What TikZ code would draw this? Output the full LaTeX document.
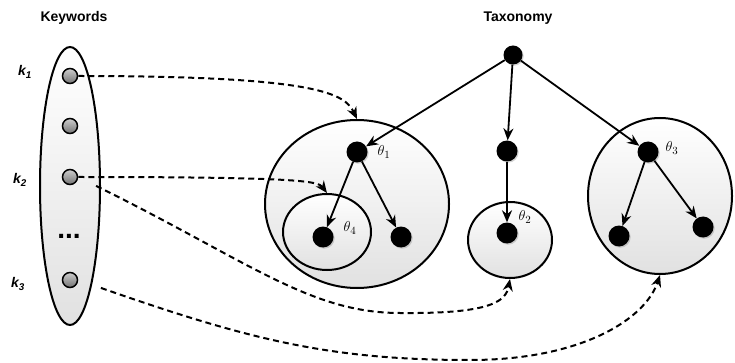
\documentclass[tikz,border=0pt]{standalone}
\usepackage{fontspec}
\setsansfont{Liberation Sans}
\usepackage{tikz}
\usetikzlibrary{shapes.geometric, arrows.meta, positioning, shadows}
\definecolor{BubbleGray}{RGB}{225, 225, 225}
\definecolor{KeyLight}{RGB}{205, 205, 205}
\definecolor{KeyDark}{RGB}{115, 115, 115}
\begin{document}
\begin{tikzpicture}[
    x=1pt,
    y=-1pt,
    bubble/.style={
        ellipse,
        draw=black,
        line width=2pt,
        top color=white,
        bottom color=BubbleGray,
        inner sep=0pt
    },
    keyball/.style={
        circle,
        draw=black,
        line width=1.5pt,
        top color=KeyLight,
        bottom color=KeyDark,
        minimum size=15pt,
        inner sep=0pt
    },
    termnode/.style={
        circle,
        fill=black,
        minimum size=21pt,
        inner sep=0pt,
        drop shadow={shadow xshift=1.2pt, shadow yshift=-1.2pt, opacity=0.35}
    },
    treearrow/.style={
        draw=black,
        line width=1.8pt,
        -{Stealth[length=12pt, width=10pt]}
    },
    linkarrow/.style={
        draw=black,
        line width=2pt,
        dash pattern=on 6pt off 4pt,
        -{Stealth[length=12pt, width=10pt]}
    },
    titlelabel/.style={
        font=\sffamily\bfseries\fontsize{14}{16}\selectfont
    },
    keylabel/.style={
        font=\sffamily\bfseries\itshape\fontsize{14}{16}\selectfont
    },
    thetalabel/.style={
        font=\fontsize{15}{17}\selectfont
    }
]
\useasboundingbox (0,0) rectangle (735,363);
% -------------------------------------------------------------
% TITLES
% -------------------------------------------------------------
\node[titlelabel] (keywordsTitle) at (74,18) {Keywords};
\node[titlelabel] (taxonomyTitle) at (518,18) {Taxonomy};
% -------------------------------------------------------------
% KEYWORD SET
% -------------------------------------------------------------
\node[bubble, minimum width=60pt, minimum height=278pt] (keySetNode) at (70,186) {};
\node[keyball] (keyOneNode) at (70,76) {};
\node[keyball] (keyExtraNode) at (70,126) {};
\node[keyball] (keyTwoNode) at (70,177) {};
\node[keyball] (keyThreeNode) at (70,280) {};
\node[font=\sffamily\bfseries\fontsize{28}{28}\selectfont] (keyDotsNode) at (69,236) {...};
\node[keylabel] (keyOneLabel) at (25,72) {k\textsubscript{1}};
\node[keylabel] (keyTwoLabel) at (20,180) {k\textsubscript{2}};
\node[keylabel] (keyThreeLabel) at (18,284) {k\textsubscript{3}};
% -------------------------------------------------------------
% TAXONOMY GROUPS
% -------------------------------------------------------------
\node[bubble, minimum width=184pt, minimum height=168pt] (groupOneNode) at (357,204) {};
\node[bubble, minimum width=88pt, minimum height=76pt] (groupFourNode) at (327,232) {};
\node[bubble, minimum width=84pt, minimum height=76pt] (groupTwoNode) at (510,240) {};
\node[bubble, minimum width=144pt, minimum height=156pt] (groupThreeNode) at (660,196) {};
% -------------------------------------------------------------
% TAXONOMY TERMS
% -------------------------------------------------------------
\node[termnode, minimum size=19pt] (rootNode) at (513,55) {};
\node[termnode] (thetaOneNode) at (357,152) {};
\node[termnode] (midNode) at (507,151) {};
\node[termnode] (thetaThreeNode) at (648,152) {};
\node[termnode] (thetaFourNode) at (323,237) {};
\node[termnode] (leafANode) at (401,237) {};
\node[termnode] (thetaTwoNode) at (507,233) {};
\node[termnode] (leafBNode) at (619,236) {};
\node[termnode] (leafCNode) at (703,227) {};
\node[thetalabel] (thetaOneLabel) at (384,152) {$\theta_1$};
\node[thetalabel] (thetaTwoLabel) at (525,217) {$\theta_2$};
\node[thetalabel] (thetaThreeLabel) at (672,148) {$\theta_3$};
\node[thetalabel] (thetaFourLabel) at (350,228) {$\theta_4$};
% -------------------------------------------------------------
% TREE EDGES
% -------------------------------------------------------------
\draw[treearrow] (rootNode) -- (thetaOneNode);
\draw[treearrow] (rootNode) -- (midNode);
\draw[treearrow] (rootNode) -- (thetaThreeNode);
\draw[treearrow] (thetaOneNode) -- (thetaFourNode);
\draw[treearrow] (thetaOneNode) -- (leafANode);
\draw[treearrow] (midNode) -- (thetaTwoNode);
\draw[treearrow] (thetaThreeNode) -- (leafBNode);
\draw[treearrow] (thetaThreeNode) -- (leafCNode);
% -------------------------------------------------------------
% KEYWORD LINKS
% -------------------------------------------------------------
\draw[linkarrow]
(keyOneNode.east)
.. controls (320,76) and (345,94) ..
(groupOneNode.north);
\draw[linkarrow]
(keyTwoNode.east)
.. controls (298,177) and (318,181) ..
(groupFourNode.north);
\draw[linkarrow, shorten <=20pt]
(keyTwoNode.east)
.. controls (250,262) and (310,313) .. (400,313)
.. controls (495,314) and (506,300) ..
(groupTwoNode.south);
\draw[linkarrow, shorten <=24pt]
(keyThreeNode.east)
.. controls (250,340) and (330,360) .. (470,360)
.. controls (580,360) and (645,320) ..
(groupThreeNode.south);
\end{tikzpicture}
\end{document}
